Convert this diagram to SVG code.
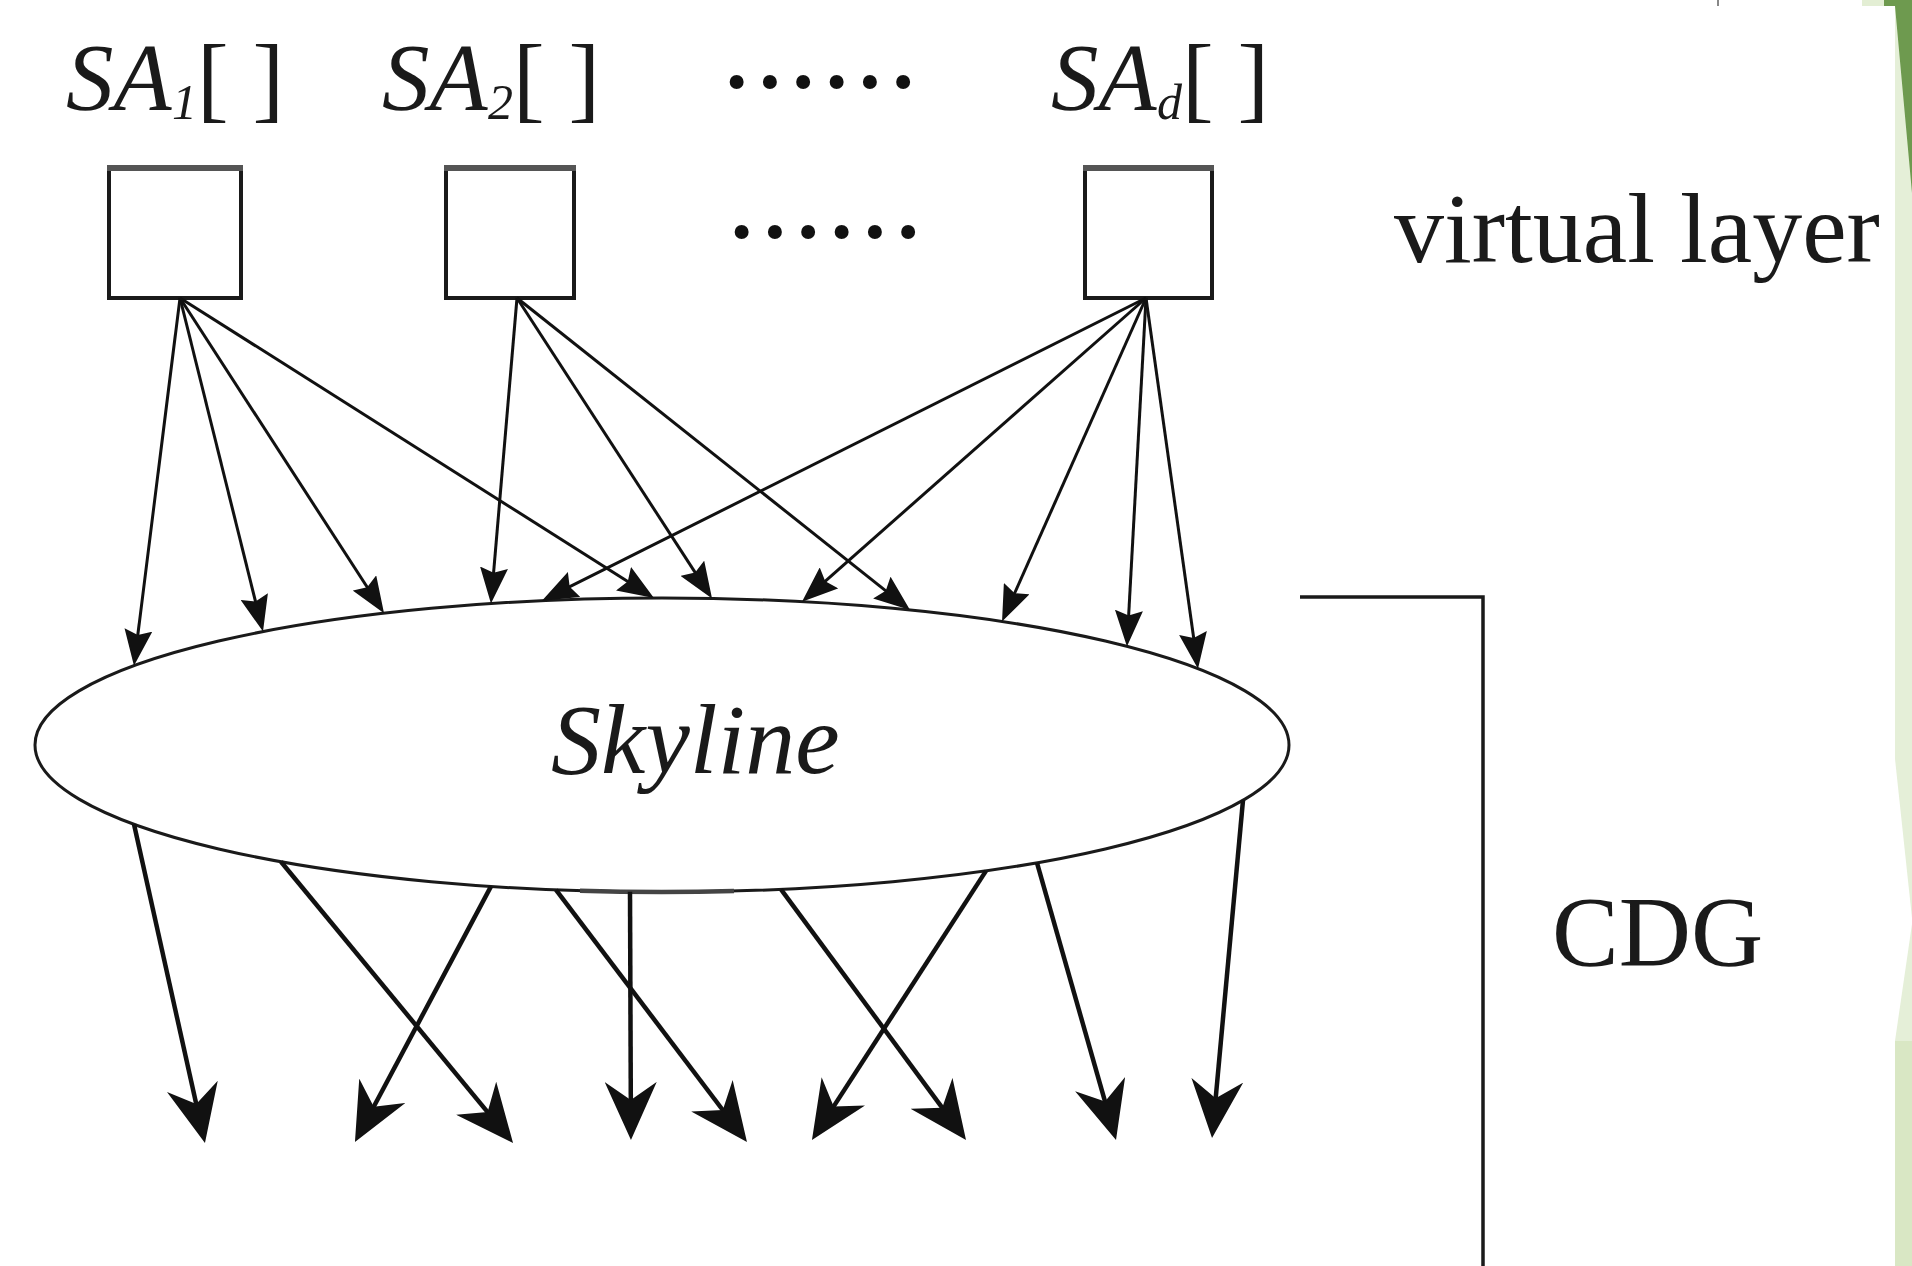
<svg xmlns="http://www.w3.org/2000/svg" width="1912" height="1266" viewBox="0 0 1912 1266">
<style>
.bg{fill:#ffffff}
.box{fill:#ffffff;stroke:#1a1a1a;stroke-width:4}
.boxtop{fill:#555555}
.lbl{font-family:"Liberation Serif","Times New Roman",serif;fill:#1a1a1a}
.it{font-style:italic}
.ell{fill:#ffffff;stroke:#1a1a1a;stroke-width:3}
.up{stroke:#111;stroke-width:3;fill:none;marker-end:url(#ah)}
.down{stroke:#111;stroke-width:4.5;fill:none;marker-end:url(#ahb)}
.brk{stroke:#1a1a1a;stroke-width:3.5;fill:none}
.dot{font-family:"Liberation Serif","Times New Roman",serif;fill:#111;font-size:118px;letter-spacing:-6px}
</style>
<defs>
<marker id="ah" markerUnits="userSpaceOnUse" viewBox="0 0 36 28" markerWidth="36" markerHeight="28" refX="26" refY="14" orient="auto">
<path d="M0,0 L36,14 L0,28 L5,14 Z" fill="#111"/>
</marker>
<marker id="ahb" markerUnits="userSpaceOnUse" viewBox="0 0 58 52" markerWidth="58" markerHeight="52" refX="43" refY="26" orient="auto">
<path d="M0,0 L58,26 L0,52 L18,26 Z" fill="#111"/>
</marker>
</defs>
<rect class="bg" x="0" y="0" width="1912" height="1266"/>

<g id="decor">
<rect x="1895" y="0" width="17" height="1266" fill="#e5efd8"/>
<rect x="1895" y="1041" width="17" height="225" fill="#d9e7c4"/>
<rect x="1862" y="0" width="22" height="6" fill="#e3eed4"/>
<polygon points="1884,0 1912,0 1912,193 1895,6 1884,6" fill="#6e9a4f"/>
<polygon points="1895,759 1912,918 1912,924 1895,1041" fill="#ffffff"/>
<line x1="1718" y1="0" x2="1718" y2="6" stroke="#888" stroke-width="2"/>
</g>

<g id="sa1">
<rect class="box" x="109" y="167" width="132" height="131"/>
<rect class="boxtop" x="107" y="165" width="136" height="6"/>
<text class="lbl" font-size="95" y="110"><tspan class="it" x="66">SA</tspan><tspan class="it" x="172" dy="9" font-size="50">1</tspan><tspan x="197" dy="-9">[ ]</tspan></text>
</g>

<g id="sa2">
<rect class="box" x="446" y="167" width="128" height="131"/>
<rect class="boxtop" x="444" y="165" width="132" height="6"/>
<text class="lbl" font-size="95" y="110"><tspan class="it" x="382">SA</tspan><tspan class="it" x="488" dy="9" font-size="50">2</tspan><tspan x="513" dy="-9">[ ]</tspan></text>
</g>

<g id="dots">
<text class="dot" x="717" y="121">······</text>
<text class="dot" x="722" y="271">······</text>
</g>

<g id="sad">
<rect class="box" x="1085" y="167" width="127" height="131"/>
<rect class="boxtop" x="1083" y="165" width="131" height="6"/>
<text class="lbl" font-size="95" y="110"><tspan class="it" x="1051">SA</tspan><tspan class="it" x="1157" dy="9" font-size="50">d</tspan><tspan x="1182" dy="-9">[ ]</tspan></text>
</g>

<g id="virtual-layer">
<text class="lbl" font-size="100" x="1394" y="262">virtual layer</text>
</g>

<g id="skyline">
<ellipse class="ell" cx="662" cy="745" rx="627" ry="147"/>
<path d="M580,890.7 Q657,893.3 734,891" stroke="#444" stroke-width="4.5" fill="none"/>
<text class="lbl it" font-size="100" x="551" y="773">Skyline</text>
</g>

<g id="cdg">
<polyline class="brk" points="1300,597 1483,597 1483,1266"/>
<text class="lbl" font-size="100" x="1552" y="965">CDG</text>
</g>

<g id="connectors">
<line class="up" x1="180" y1="298" x2="135.2" y2="655.8"/>
<line class="up" x1="180" y1="298" x2="260.6" y2="621.9"/>
<line class="up" x1="180" y1="298" x2="378.6" y2="604.8"/>
<line class="up" x1="180" y1="298" x2="645.5" y2="592.7"/>
<line class="up" x1="517" y1="298" x2="491.8" y2="593.6"/>
<line class="up" x1="517" y1="298" x2="706.6" y2="590.1"/>
<line class="up" x1="517" y1="298" x2="902.2" y2="603.8"/>
<line class="up" x1="1146" y1="298" x2="550.9" y2="596.2"/>
<line class="up" x1="1146" y1="298" x2="809.5" y2="595.1"/>
<line class="up" x1="1146" y1="298" x2="1006.1" y2="612.4"/>
<line class="up" x1="1146" y1="298" x2="1127.5" y2="636.4"/>
<line class="up" x1="1146" y1="298" x2="1196.6" y2="658.8"/>

<line class="down" x1="134" y1="824.3" x2="201.7" y2="1128.4"/>
<line class="down" x1="281" y1="861.7" x2="503.5" y2="1131.4"/>
<line class="down" x1="491" y1="886.4" x2="362.0" y2="1128.8"/>
<line class="down" x1="556" y1="889.9" x2="737.9" y2="1130.0"/>
<line class="down" x1="630" y1="891.8" x2="630.9" y2="1125"/>
<line class="down" x1="781" y1="889.3" x2="957.1" y2="1127.9"/>
<line class="down" x1="986" y1="870.9" x2="820.1" y2="1127.4"/>
<line class="down" x1="1037" y1="862.8" x2="1111.9" y2="1125.6"/>
<line class="down" x1="1243" y1="800.3" x2="1213.4" y2="1123.1"/>
</g>
</svg>
